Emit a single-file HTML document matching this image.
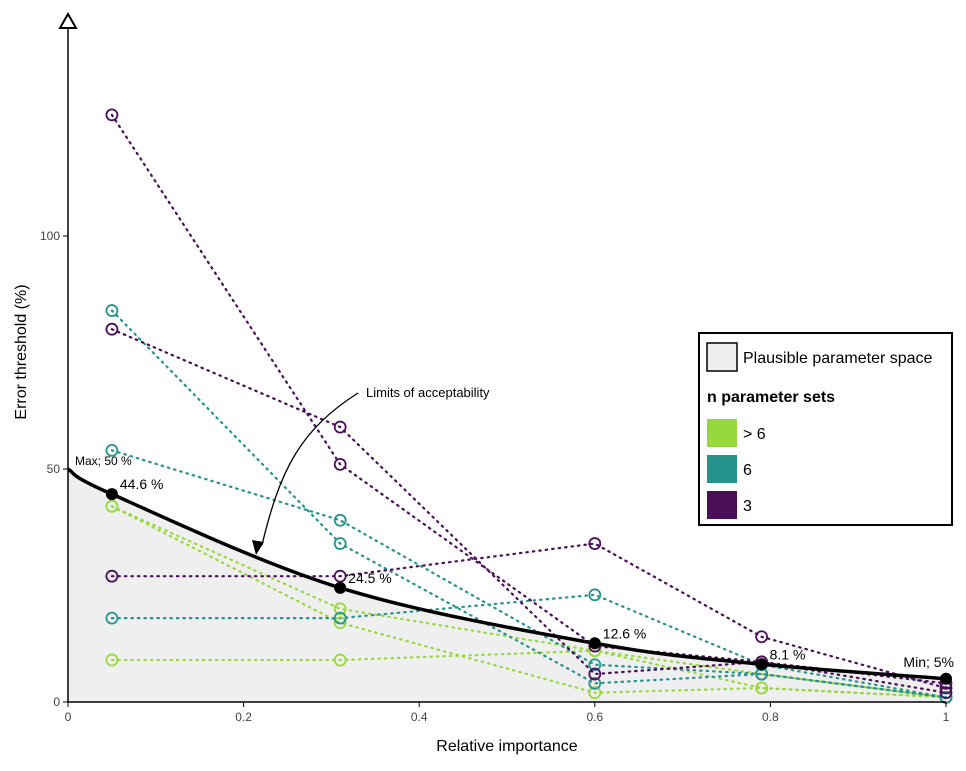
<!DOCTYPE html>
<html><head><meta charset="utf-8"><style>
body{margin:0;background:#fff;}
svg text{font-family:"Liberation Sans",Arial,sans-serif;}
</style></head><body>
<svg id="chart" width="966" height="766" viewBox="0 0 966 766" xmlns="http://www.w3.org/2000/svg">
<g id="plot"></g>
<text x="507" y="751" font-size="16" text-anchor="middle">Relative importance</text>
<text transform="translate(26,352) rotate(-90)" font-size="16" text-anchor="middle">Error threshold (%)</text>
<g>
<text x="366" y="397" font-size="13">Limits of acceptability</text>
<path d="M358,393 C300,430 280,470 262,545" fill="none" stroke="#000" stroke-width="1.3"/>
<polygon points="256,555 252,540 264,542" fill="#000"/>
</g>
<g>
<rect x="699" y="333" width="253" height="192" fill="#fff" stroke="#000" stroke-width="2"/>
<rect x="707" y="343" width="30" height="28" fill="#efefef" stroke="#000" stroke-width="1.5"/>
<text x="743" y="363" font-size="16">Plausible parameter space</text>
<text x="707" y="402" font-size="16" font-weight="bold">n parameter sets</text>
<rect x="707" y="419" width="30" height="28" fill="#97d83e"/>
<text x="743" y="439" font-size="16">&gt; 6</text>
<rect x="707" y="455" width="30" height="28" fill="#26938c"/>
<text x="743" y="475" font-size="16">6</text>
<rect x="707" y="491" width="30" height="28" fill="#4b0f5a"/>
<text x="743" y="511" font-size="16">3</text>
</g>
</svg>
<script>
const xCats=[0.05,0.31,0.6,0.79,1];
const seriesGroups=["3","3","3","6","6","6",">6",">6",">6"];
const s1=[126,51,12,8.6,2];
const s2=[80,59,6,8.6,4];
const s3=[27,27,34,14,3];
const s4=[84,34,4,6,1];
const s5=[54,39,8,6,1];
const s6=[18,18,23,8,1];
const s7=[42,17,2,3,1];
const s8=[42,20,11,6,1];
const s9=[9,9,11,3,1];
const curveX=[0,0.05,0.31,0.6,0.79,1];
const curveY=[50,44.6,24.5,12.6,8.1,5];
const curveLabels=["Max; 50 %","44.6 %","24.5 %","12.6 %","8.1 %","Min; 5%"];
const xTicks=[0,0.2,0.4,0.6,0.8,1];
const xTickLabels=["0","0.2","0.4","0.6","0.8","1"];
const yTicks=[0,50,100];
const yTickLabels=["0","50","100"];

const NS="http://www.w3.org/2000/svg";
const X0=68,X1=946,Y0=702,PXU=4.66;
const sx=v=>X0+(X1-X0)*v, sy=v=>Y0-v*PXU;
const g=document.getElementById('plot');
function el(t,a,p){const e=document.createElementNS(NS,t);for(const k in a)e.setAttribute(k,a[k]);(p||g).appendChild(e);return e;}
const colors={"3":"#4b0f5a","6":"#26938c",">6":"#97d83e"};

const pts=curveX.map((x,i)=>[sx(x),sy(curveY[i])]);
let d="M"+pts[0][0]+","+pts[0][1];
for(let i=0;i<pts.length-1;i++){
 const p0=pts[Math.max(0,i-1)],p1=pts[i],p2=pts[i+1],p3=pts[Math.min(pts.length-1,i+2)];
 const c1=[p1[0]+(p2[0]-p0[0])/6,p1[1]+(p2[1]-p0[1])/6],c2=[p2[0]-(p3[0]-p1[0])/6,p2[1]-(p3[1]-p1[1])/6];
 d+=` C${c1[0]},${c1[1]} ${c2[0]},${c2[1]} ${p2[0]},${p2[1]}`;
}
const area=el('path',{d:d+` L${sx(1)},${Y0} L${sx(0)},${Y0} Z`,fill:'#efefef',stroke:'none'});



const all=[s1,s2,s3,s4,s5,s6,s7,s8,s9];
const order=[6,7,8,3,4,5,0,1,2];
order.forEach(i=>{
 const s=all[i],c=colors[seriesGroups[i]];
 const line=el('polyline',{points:s.map((v,j)=>sx(xCats[j])+","+sy(v)).join(" "),fill:'none',stroke:c,'stroke-width':2.2,'stroke-dasharray':'1.5 5','stroke-linecap':'round'});
 
 
});
order.forEach(i=>{
 const s=all[i],c=colors[seriesGroups[i]];
 s.forEach((v,j)=>{
  const ci=el('circle',{cx:sx(xCats[j]),cy:sy(v),r:5.5,fill:'none',stroke:c,'stroke-width':1.8});
  
  
 });
});
const cl=el('path',{d:d,fill:'none',stroke:'#000','stroke-width':3.5});


curveX.forEach((x,i)=>{
 if(i>0){const c=el('circle',{cx:sx(x),cy:sy(curveY[i]),r:6,fill:'#000'});
 
 }
 let tx=sx(x)+8,ty=sy(curveY[i])-5,anchor='start';
 if(i==0){tx=75;ty=465;}
 if(i==5){tx=954;ty=667;anchor='end';}
 const t=el('text',{x:tx,y:ty,'font-size':i==0?12:14,'text-anchor':anchor,fill:'#000'});
 t.textContent=curveLabels[i];
 
 
});
el('line',{x1:X0,y1:Y0,x2:X1,y2:Y0,stroke:'#000','stroke-width':1.5});
el('line',{x1:X0,y1:Y0,x2:X0,y2:28,stroke:'#000','stroke-width':1.5});
el('polygon',{points:"68,14 60,28 76,28",fill:'#fff',stroke:'#000','stroke-width':2});
xTicks.forEach((v,i)=>{
 el('line',{x1:sx(v),y1:Y0,x2:sx(v),y2:Y0+5,stroke:'#000'});
 const t=el('text',{x:sx(v),y:Y0+19,'font-size':12,'text-anchor':'middle',fill:'#444'});
 t.textContent=xTickLabels[i];
 
 
});
yTicks.forEach((v,i)=>{
 el('line',{x1:X0-5,y1:sy(v),x2:X0,y2:sy(v),stroke:'#000'});
 const t=el('text',{x:X0-8,y:sy(v)+4,'font-size':12,'text-anchor':'end',fill:'#444'});
 t.textContent=yTickLabels[i];
 
 
});
</script>
</body></html>
